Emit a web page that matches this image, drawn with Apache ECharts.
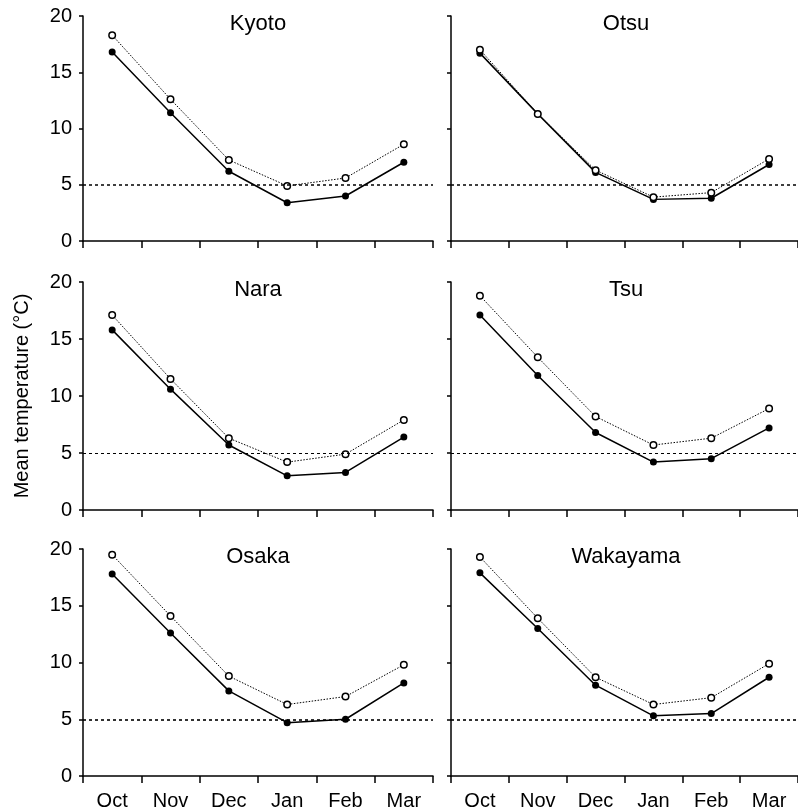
<!DOCTYPE html>
<html>
<head>
<meta charset="utf-8">
<script src="https://cdn.jsdelivr.net/npm/echarts@6/dist/echarts.min.js"></script>
<style>
  html, body { margin: 0; padding: 0; background: #fff; }
  #chart { width: 798px; height: 811px; }
</style>
</head>
<body>
<div id="chart"></div>
<script>
const months = ['Oct', 'Nov', 'Dec', 'Jan', 'Feb', 'Mar'];
const yTicks = [0, 5, 10, 15, 20];
const cities = ['Kyoto', 'Otsu', 'Nara', 'Tsu', 'Osaka', 'Wakayama'];
const threshold = 5;

// filled circles, solid line
const kyotoFilled = [16.8, 11.4, 6.2, 3.4, 4.0, 7.0];
const otsuFilled = [16.7, 11.3, 6.1, 3.7, 3.8, 6.8];
const naraFilled = [15.8, 10.6, 5.7, 3.0, 3.3, 6.4];
const tsuFilled = [17.1, 11.8, 6.8, 4.2, 4.5, 7.2];
const osakaFilled = [17.8, 12.6, 7.5, 4.7, 5.0, 8.2];
const wakayamaFilled = [17.9, 13.0, 8.0, 5.3, 5.5, 8.7];

// open circles, dotted line
const kyotoOpen = [18.3, 12.6, 7.2, 4.9, 5.6, 8.6];
const otsuOpen = [17.0, 11.3, 6.3, 3.9, 4.3, 7.3];
const naraOpen = [17.1, 11.5, 6.3, 4.2, 4.9, 7.9];
const tsuOpen = [18.8, 13.4, 8.2, 5.7, 6.3, 8.9];
const osakaOpen = [19.5, 14.1, 8.8, 6.3, 7.0, 9.8];
const wakayamaOpen = [19.3, 13.9, 8.7, 6.3, 6.9, 9.9];

const filled = [kyotoFilled, otsuFilled, naraFilled, tsuFilled, osakaFilled, wakayamaFilled];
const open = [kyotoOpen, otsuOpen, naraOpen, tsuOpen, osakaOpen, wakayamaOpen];

const font = "'Liberation Sans', Arial, sans-serif";
const colLeft = [83, 451];
const rowTop = [16, 282, 549];
const rowHeight = [225, 228, 228];
const gridW = 350;
const refWidth = [1.6, 1.6, 1, 1, 1.6, 1.6];

const grids = [], xAxes = [], yAxes = [], series = [], titles = [];

cities.forEach((city, i) => {
  const col = i % 2;
  const row = Math.floor(i / 2);
  grids.push({ left: colLeft[col], top: rowTop[row], width: gridW, height: rowHeight[row] });
  titles.push({
    text: city,
    left: colLeft[col] + gridW / 2,
    top: rowTop[row] - 3,
    textAlign: 'center',
    padding: 0,
    textStyle: { fontFamily: font, fontSize: 22, fontWeight: 'normal', color: '#000' }
  });
  xAxes.push({
    type: 'category',
    gridIndex: i,
    data: months,
    boundaryGap: true,
    axisLine: { lineStyle: { color: '#000', width: 1.5 } },
    axisTick: { show: true, length: 7, lineStyle: { color: '#000', width: 1.5 } },
    axisLabel: { show: row === 2, color: '#000', fontSize: 20, fontFamily: font, margin: 15 },
    splitLine: { show: false }
  });
  yAxes.push({
    type: 'value',
    gridIndex: i,
    min: yTicks[0],
    max: yTicks[yTicks.length - 1],
    interval: 5,
    axisLine: { show: true, lineStyle: { color: '#000', width: 1.5 } },
    axisTick: { show: true, length: 4, lineStyle: { color: '#000', width: 1.5 } },
    axisLabel: { show: col === 0, color: '#000', fontSize: 20, fontFamily: font, margin: 11 },
    splitLine: { show: false },
    name: (i === 2) ? 'Mean temperature (°C)' : '',
    nameLocation: 'middle',
    nameRotate: 90,
    nameGap: 51,
    nameTextStyle: { color: '#000', fontSize: 20, fontFamily: font }
  });
  series.push({
    type: 'line',
    xAxisIndex: i,
    yAxisIndex: i,
    data: filled[i],
    symbol: 'circle',
    symbolSize: 7,
    itemStyle: { color: '#000' },
    lineStyle: { color: '#000', width: 1.5 },
    markLine: {
      silent: true,
      symbol: 'none',
      label: { show: false },
      lineStyle: { color: '#000', width: refWidth[i], type: [3, 3] },
      data: [{ yAxis: threshold }]
    }
  });
  series.push({
    type: 'line',
    xAxisIndex: i,
    yAxisIndex: i,
    data: open[i],
    symbol: 'circle',
    symbolSize: 6.5,
    itemStyle: { color: '#fff', borderColor: '#000', borderWidth: 1.5 },
    lineStyle: { color: '#000', width: 1, type: [1.5, 1.5] }
  });
});

const chart = echarts.init(document.getElementById('chart'));
chart.setOption({
  backgroundColor: '#fff',
  animation: false,
  title: titles,
  grid: grids,
  xAxis: xAxes,
  yAxis: yAxes,
  series: series
});
</script>
</body>
</html>
